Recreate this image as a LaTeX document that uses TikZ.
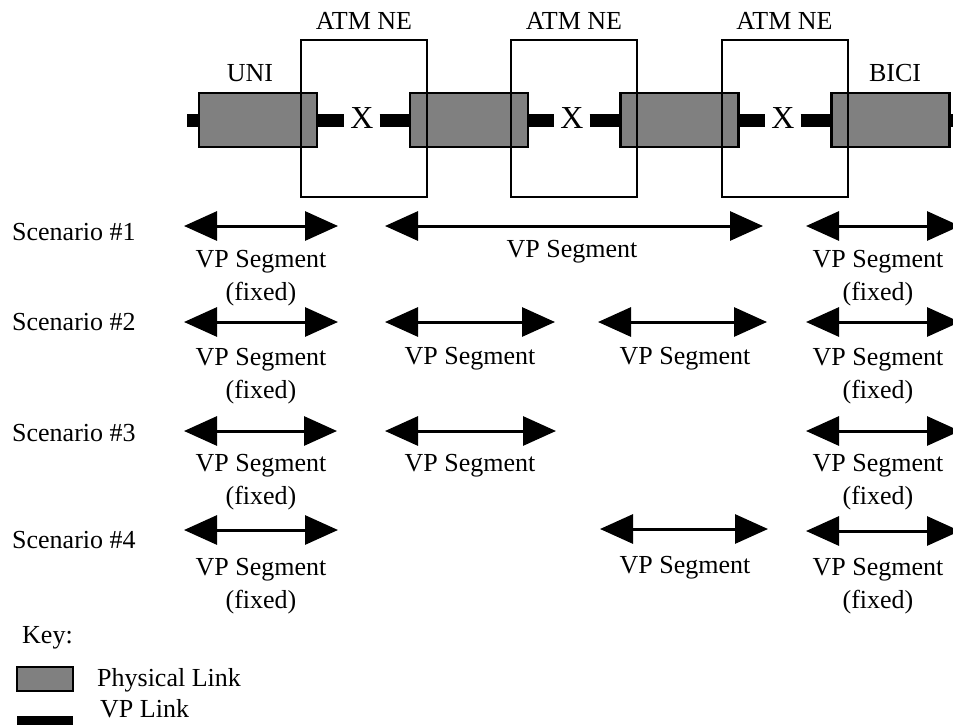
\documentclass[tikz,border=0pt]{standalone}
\usepackage{fontspec}
\setmainfont{Liberation Serif}
\usetikzlibrary{arrows.meta}
\definecolor{physgrey}{HTML}{808080}
\begin{document}
\begin{tikzpicture}[x=1pt,y=-1pt,
  every node/.style={font=\fontsize{26}{33}\selectfont, inner sep=0pt},
  phys/.style={draw=black, line width=2.5pt, fill=physgrey, minimum width=118pt, minimum height=54pt},
  nebox/.style={draw=black, line width=2pt, minimum width=126pt, minimum height=157pt},
  vplink/.style={line width=13pt, line cap=butt},
  xmark/.style={font=\fontsize{32}{36}\selectfont, minimum width=35pt},
  seg/.style={line width=3pt, {Triangle[length=33pt,width=29pt]}-{Triangle[length=33pt,width=29pt]}},
  lbl/.style={align=center}
]
\useasboundingbox (0,0) rectangle (953,725);
\clip (0,0) rectangle (953,725);

% physical links
\node[phys] (g1) at (258,120) {};
\node[phys] (g2) at (469,120) {};
\node[phys] (g3) at (679.5,120) {};
\node[phys] (g4) at (890.5,120) {};

% cross-connects
\node[xmark] (x1) at (362,118) {X};
\node[xmark] (x2) at (572,118) {X};
\node[xmark] (x3) at (783,118) {X};

% VP links
\coordinate (vl) at (187,120);
\coordinate (vr) at (960,120);
\draw[vplink] (vl) -- (g1.west);
\draw[vplink] (g1.east) -- (g1.east -| x1.west);
\draw[vplink] (g2.west -| x1.east) -- (g2.west);
\draw[vplink] (g2.east) -- (g2.east -| x2.west);
\draw[vplink] (g3.west -| x2.east) -- (g3.west);
\draw[vplink] (g3.east) -- (g3.east -| x3.west);
\draw[vplink] (g4.west -| x3.east) -- (g4.west);
\draw[vplink] (g4.east) -- (vr);

% ATM NE boxes
\node[nebox] (ne1) at (364,118.5) {};
\node[nebox] (ne2) at (574,118.5) {};
\node[nebox] (ne3) at (784.5,118.5) {};
\node (ne1l) at (364,20.5) {ATM NE};
\node (ne2l) at (574,20.5) {ATM NE};
\node (ne3l) at (784.5,20.5) {ATM NE};
\node (uni) at (250,73) {UNI};
\node (bici) at (895,73) {BICI};

% scenario labels
\node[anchor=west] (s1) at (12,232) {Scenario \#1};
\node[anchor=west] (s2) at (12,322) {Scenario \#2};
\node[anchor=west] (s3) at (12,433) {Scenario \#3};
\node[anchor=west] (s4) at (12,540) {Scenario \#4};

% arrow end points
\coordinate (a1l) at (184,226); \coordinate (a1r) at (338,226);
\coordinate (m1l) at (385,226); \coordinate (m1r) at (763,226);
\coordinate (e1l) at (806,226); \coordinate (e1r) at (960,226);

\coordinate (a2l) at (184,322); \coordinate (a2r) at (338,322);
\coordinate (b2l) at (385,322); \coordinate (b2r) at (555,322);
\coordinate (c2l) at (598,322); \coordinate (c2r) at (767,322);
\coordinate (e2l) at (806,322); \coordinate (e2r) at (960,322);

\coordinate (a3l) at (184,431); \coordinate (a3r) at (337,431);
\coordinate (b3l) at (385,431); \coordinate (b3r) at (556,431);
\coordinate (e3l) at (806,431); \coordinate (e3r) at (960,431);

\coordinate (a4l) at (184,530); \coordinate (a4r) at (338,530);
\coordinate (c4l) at (600,529); \coordinate (c4r) at (768,529);
\coordinate (e4l) at (806,531); \coordinate (e4r) at (960,531);

% scenario 1
\draw[seg] (a1l) -- (a1r);
\draw[seg] (m1l) -- (m1r);
\draw[seg] (e1l) -- (e1r);
\node[lbl] (t1a) at (261,278) {VP Segment\\(fixed)};
\node[lbl] (t1m) at (572,252) {VP Segment};
\node[lbl] (t1e) at (878,278) {VP Segment\\(fixed)};

% scenario 2
\draw[seg] (a2l) -- (a2r);
\draw[seg] (b2l) -- (b2r);
\draw[seg] (c2l) -- (c2r);
\draw[seg] (e2l) -- (e2r);
\node[lbl] (t2a) at (261,376) {VP Segment\\(fixed)};
\node[lbl] (t2b) at (470,359) {VP Segment};
\node[lbl] (t2c) at (685,359) {VP Segment};
\node[lbl] (t2e) at (878,376) {VP Segment\\(fixed)};

% scenario 3
\draw[seg] (a3l) -- (a3r);
\draw[seg] (b3l) -- (b3r);
\draw[seg] (e3l) -- (e3r);
\node[lbl] (t3a) at (261,482) {VP Segment\\(fixed)};
\node[lbl] (t3b) at (470,466) {VP Segment};
\node[lbl] (t3e) at (878,482) {VP Segment\\(fixed)};

% scenario 4
\draw[seg] (a4l) -- (a4r);
\draw[seg] (c4l) -- (c4r);
\draw[seg] (e4l) -- (e4r);
\node[lbl] (t4a) at (261,586) {VP Segment\\(fixed)};
\node[lbl] (t4c) at (685,568) {VP Segment};
\node[lbl] (t4e) at (878,586) {VP Segment\\(fixed)};

% key
\node[anchor=west] (key) at (22,638) {Key:};
\node[draw=black, line width=2.5pt, fill=physgrey, minimum width=56pt, minimum height=24pt] (kphys) at (45,679) {};
\node[anchor=west] (kphysl) at (97,680) {Physical Link};
\node[fill=black, minimum width=56pt, minimum height=12pt] (kvp) at (45,722) {};
\node[anchor=west] (kvpl) at (100,709) {VP Link};
\end{tikzpicture}
\end{document}
